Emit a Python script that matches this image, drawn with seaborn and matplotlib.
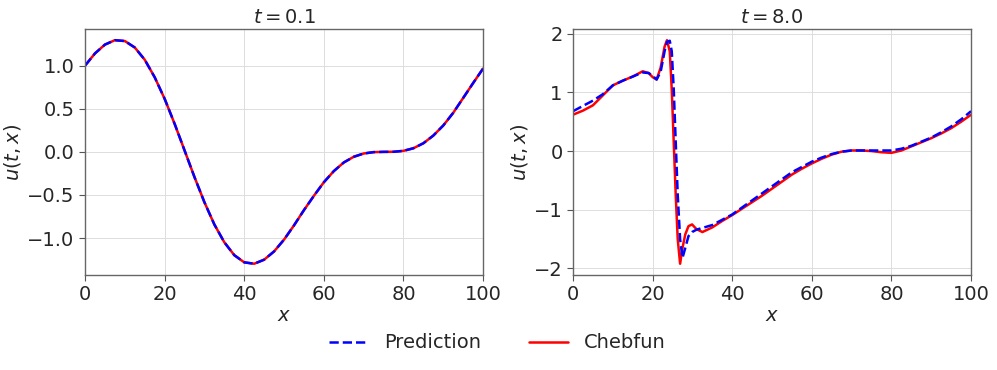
import numpy as np
import matplotlib
matplotlib.use('Agg')
import matplotlib.pyplot as plt
import seaborn as sns

# t = 0.1 panel (prediction and reference overlap)
x_left = [0, 2.5, 5, 7.5, 10, 12.5, 15, 17.5, 20, 22.5, 25, 27.5, 30, 32.5, 35, 37.5,
          40, 42.5, 45, 47.5, 50, 52.5, 55, 57.5, 60, 62.5, 65, 67.5, 70, 72.5, 75,
          77.5, 80, 82.5, 85, 87.5, 90, 92.5, 95, 97.5, 100]
u_left = [1.000, 1.142, 1.244, 1.295, 1.285, 1.210, 1.068, 0.865, 0.615, 0.326, 0.017,
          -0.293, -0.585, -0.843, -1.049, -1.198, -1.281, -1.297, -1.250, -1.154, -1.017,
          -0.852, -0.675, -0.509, -0.352, -0.223, -0.123, -0.057, -0.019, -0.003, 0.000,
          0.001, 0.012, 0.042, 0.100, 0.189, 0.306, 0.453, 0.625, 0.798, 0.966]

# t = 8.0 panel
x_right = [0, 2.5, 5, 7.5, 10, 12.5, 15, 17.5, 19, 20, 21, 22, 23, 23.6, 24.3, 24.8,
           25.3, 25.8, 26.3, 26.9, 27.5, 28.2, 29, 29.9, 31, 32.5, 35, 37.5, 40, 42.5,
           45, 47.5, 50, 52.5, 55, 57.5, 60, 62.5, 65, 67.5, 70, 72.5, 75, 77.5, 80,
           82.5, 85, 87.5, 90, 92.5, 95, 97.5, 100]
u_cheb = [0.62, 0.69, 0.78, 0.95, 1.12, 1.20, 1.27, 1.36, 1.33, 1.26, 1.22, 1.42, 1.78,
          1.89, 1.70, 1.05, 0.15, -0.75, -1.50, -1.92, -1.65, -1.42, -1.28, -1.25, -1.33,
          -1.38, -1.30, -1.19, -1.09, -0.98, -0.87, -0.76, -0.64, -0.52, -0.40, -0.30,
          -0.21, -0.13, -0.06, -0.01, 0.01, 0.01, 0.00, -0.02, -0.03, 0.01, 0.08, 0.15,
          0.22, 0.30, 0.39, 0.50, 0.62]
u_pred = [0.68, 0.77, 0.86, 0.97, 1.12, 1.20, 1.27, 1.34, 1.33, 1.28, 1.22, 1.35, 1.70,
          1.86, 1.88, 1.70, 1.05, 0.15, -0.75, -1.50, -1.82, -1.65, -1.45, -1.38, -1.34,
          -1.31, -1.26, -1.17, -1.08, -0.96, -0.84, -0.72, -0.60, -0.48, -0.36, -0.27,
          -0.18, -0.11, -0.05, -0.01, 0.01, 0.01, 0.01, 0.01, 0.01, 0.04, 0.09, 0.16,
          0.23, 0.32, 0.42, 0.54, 0.68]

sns.set_style('ticks')
plt.rcParams['font.family'] = ['DejaVu Sans']
plt.rcParams['mathtext.fontset'] = 'dejavusans'
fs = 14

fig, axes = plt.subplots(1, 2, figsize=(9.97, 3.7), dpi=100)
fig.subplots_adjust(left=0.0853, right=0.974, top=0.9216, bottom=0.257, wspace=0.226)

panels = [
    (axes[0], x_left, u_left, u_left, r'$t = 0.1$'),
    (axes[1], x_right, u_pred, u_cheb, r'$t = 8.0$'),
]
for ax, xs, pred, cheb, title in panels:
    sns.lineplot(x=xs, y=cheb, ax=ax, color='red', linewidth=1.8, label='Chebfun',
                 estimator=None, sort=False)
    sns.lineplot(x=xs, y=pred, ax=ax, color='blue', linewidth=1.8, linestyle='--',
                 label='Prediction', estimator=None, sort=False)
    ax.set_xlim(0, 100)
    ax.set_xticks([0, 20, 40, 60, 80, 100])
    ax.set_title(title, fontsize=fs, pad=4)
    ax.set_xlabel(r'$x$', fontsize=fs, labelpad=1)
    ax.set_ylabel(r'$u(t,x)$', fontsize=fs, labelpad=3)
    ax.grid(True, color='#dddddd', linewidth=0.7)
    ax.tick_params(labelsize=fs, color='#555555', length=4)
    for sp in ax.spines.values():
        sp.set_visible(True)
        sp.set_color('#666666')
        sp.set_linewidth(1.0)
    ax.get_legend().remove()

handles, labels = axes[0].get_legend_handles_labels()
fig.legend([handles[1], handles[0]], [labels[1], labels[0]], loc='center',
           bbox_to_anchor=(0.499, 0.073), ncol=2, frameon=False, fontsize=fs,
           columnspacing=2.5)

fig.savefig('out.png', dpi=100)
